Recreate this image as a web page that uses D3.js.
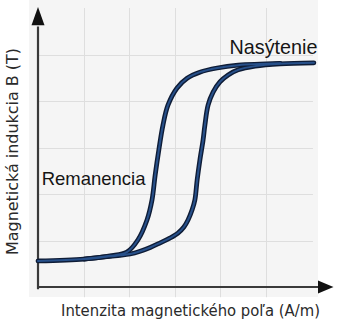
<!DOCTYPE html>
<html>
<head>
<meta charset="utf-8">
<script src="https://cdn.jsdelivr.net/npm/d3@7"></script>
<style>
  html, body { margin: 0; padding: 0; background: #ffffff; }
  svg { display: block; }
</style>
</head>
<body>
<svg id="chart" width="342" height="322"></svg>
<script>
// Hysteresis loop: field strength H (grid units) and flux density B (grid units)
const ascendingH = [0, 1.01, 1.58, 1.80, 2.02, 2.24, 2.46, 2.68, 2.89, 3.07, 3.20, 3.29, 3.38, 3.44, 3.49, 3.55, 3.62, 3.66, 3.73, 3.84, 3.99, 4.17, 4.39, 4.76, 5.31, 6.05];
const ascendingB = [0.56, 0.60, 0.66, 0.68, 0.71, 0.77, 0.85, 0.95, 1.05, 1.16, 1.29, 1.44, 1.66, 1.87, 2.30, 2.73, 3.16, 3.48, 3.91, 4.19, 4.41, 4.56, 4.67, 4.75, 4.80, 4.82];

const descendingH = [5.31, 4.39, 3.93, 3.55, 3.27, 3.05, 2.85, 2.74, 2.65, 2.57, 2.50, 2.39, 2.19, 1.95, 1.58, 1.01];
const descendingB = [4.81, 4.77, 4.71, 4.62, 4.49, 4.28, 3.91, 3.48, 2.95, 2.41, 1.87, 1.44, 1.01, 0.75, 0.67, 0.60];

const gridH = [1, 2, 3, 4, 5];
const gridB = [1, 2, 3, 4, 5];

const xTitle = "Intenzita magnetického poľa (A/m)";
const yTitle = "Magnetická indukcia B (T)";
const labels = [
  { text: "Nasýtenie", h: 4.2, b: 5.02, size: 19.8 },
  { text: "Remanencia", h: 0.08, b: 2.19, size: 18.5 }
];

const svg = d3.select("#chart");
const x = d3.scaleLinear().domain([0, 6]).range([38, 311.6]);
const y = d3.scaleLinear().domain([0, 5]).range([287, 54.5]);

// soft panel behind the plot
svg.append("rect")
  .attr("x", 29).attr("y", 0)
  .attr("width", 289).attr("height", 297)
  .attr("fill", "#f5f5f5");

// grid
const grid = svg.append("g").attr("stroke", "#dedede").attr("stroke-width", 1);
grid.selectAll("line.v").data(gridH).join("line")
  .attr("class", "v")
  .attr("x1", d => Math.round(x(d)) + 0.5).attr("x2", d => Math.round(x(d)) + 0.5)
  .attr("y1", y(-0.22)).attr("y2", y(6.0));
grid.selectAll("line.h").data(gridB).join("line")
  .attr("class", "h")
  .attr("y1", d => Math.round(y(d)) + 0.5).attr("y2", d => Math.round(y(d)) + 0.5)
  .attr("x1", x(0)).attr("x2", x(6.03));

// axes with arrowheads
const axisColor = "#3a3a3a";
svg.append("line")
  .attr("x1", x(0)).attr("x2", x(0))
  .attr("y1", y(-0.05)).attr("y2", y(5.6))
  .attr("stroke", axisColor).attr("stroke-width", 2.2);
svg.append("line")
  .attr("x1", x(0) - 1).attr("x2", x(6.2))
  .attr("y1", y(0)).attr("y2", y(0))
  .attr("stroke", axisColor).attr("stroke-width", 2.2);

svg.append("path")
  .attr("d", `M${x(0)},${y(6.02)} L${x(0) - 6.5},${y(5.63)} L${x(0) + 6.5},${y(5.63)} Z`)
  .attr("fill", "#111");
svg.append("path")
  .attr("d", `M${x(6.48)},${y(0)} L${x(6.14)},${y(0) - 6.5} L${x(6.14)},${y(0) + 6.5} Z`)
  .attr("fill", "#111");

// loop branches
const line = d3.line()
  .x(d => x(d[0]))
  .y(d => y(d[1]))
  .curve(d3.curveCatmullRom.alpha(0.5));

const ascending = ascendingH.map((h, i) => [h, ascendingB[i]]);
const descending = descendingH.map((h, i) => [h, descendingB[i]]);

const curves = svg.append("g").attr("fill", "none").attr("stroke-linecap", "round");
[ascending, descending].forEach(pts => {
  curves.append("path").attr("d", line(pts))
    .attr("stroke", "#0e1c36").attr("stroke-width", 4.8);
});
[ascending, descending].forEach(pts => {
  curves.append("path").attr("d", line(pts))
    .attr("stroke", "#27508a").attr("stroke-width", 2.0);
});

// annotations
svg.selectAll("text.note").data(labels).join("text")
  .attr("class", "note")
  .attr("x", d => x(d.h)).attr("y", d => y(d.b))
  .attr("font-family", "Liberation Sans, Arial, sans-serif")
  .attr("font-size", d => d.size)
  .attr("fill", "#151515")
  .text(d => d.text);

// axis titles
svg.append("text")
  .attr("x", 61).attr("y", 316)
  .attr("font-family", "DejaVu Sans, sans-serif")
  .attr("font-size", 15.5)
  .attr("fill", "#2a2a2a")
  .attr("textLength", 259)
  .attr("lengthAdjust", "spacingAndGlyphs")
  .text(xTitle);

svg.append("text")
  .attr("transform", "translate(18,255) rotate(-90)")
  .attr("font-family", "DejaVu Sans, sans-serif")
  .attr("font-size", 15.5)
  .attr("fill", "#2a2a2a")
  .attr("textLength", 207)
  .attr("lengthAdjust", "spacingAndGlyphs")
  .text(yTitle);
</script>
</body>
</html>
